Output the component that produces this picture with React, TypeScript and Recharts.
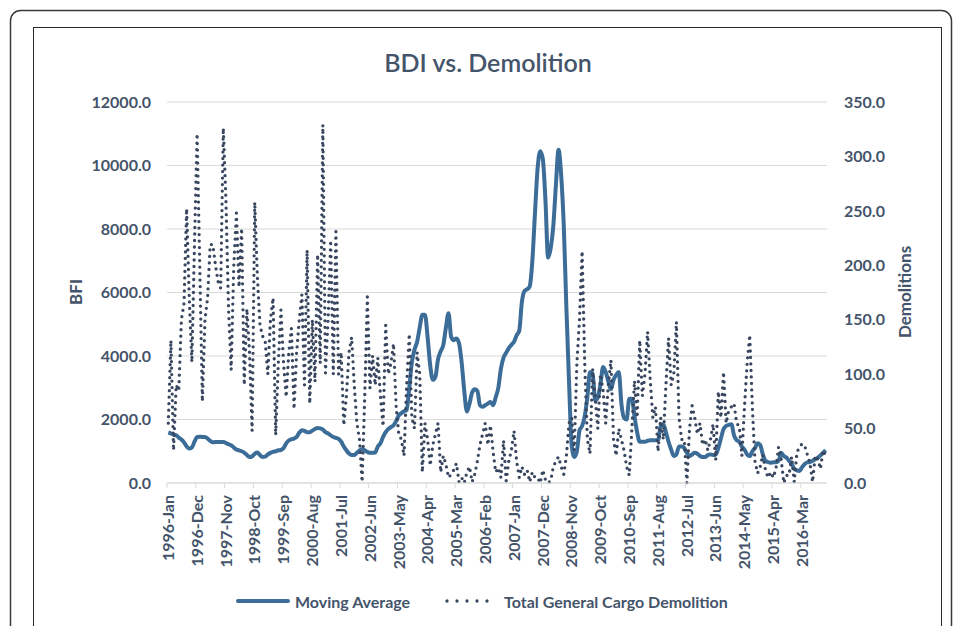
import { ComposedChart, Line, XAxis, YAxis, CartesianGrid } from "recharts";

const MONTH_NAMES = ["Jan", "Feb", "Mar", "Apr", "May", "Jun", "Jul", "Aug", "Sep", "Oct", "Nov", "Dec"];
const YEARS = [1996, 1997, 1998, 1999, 2000, 2001, 2002, 2003, 2004, 2005, 2006, 2007, 2008, 2009, 2010, 2011, 2012, 2013, 2014, 2015, 2016];

const months: string[] = [];
YEARS.forEach((y) => MONTH_NAMES.forEach((m) => months.push(`${y}-${m}`)));

// BDI moving average, left axis
const movingAverage = [
  1590, 1560, 1520, 1500, 1430, 1370, 1280, 1150, 1085, 1120,
  1300, 1450, 1460, 1450, 1450, 1400, 1330, 1280, 1290, 1290,
  1290, 1290, 1260, 1220, 1190, 1120, 1050, 1030, 1000, 960,
  880, 820, 840, 920, 960, 880, 820, 830, 900, 950,
  980, 1000, 1030, 1040, 1100, 1250, 1340, 1380, 1400, 1450,
  1580, 1660, 1640, 1600, 1600, 1650, 1700, 1730, 1720, 1680,
  1600, 1560, 1500, 1450, 1420, 1390, 1300, 1150, 1030, 930,
  880, 880, 950, 1030, 1060, 1030, 980, 950, 950, 960,
  1150, 1250, 1450, 1600, 1700, 1760, 1820, 1950, 2130, 2200,
  2260, 2300, 3000, 3800, 4200, 4450, 4900, 5300, 5300, 4600,
  3700, 3250, 3350, 3900, 4150, 4350, 4900, 5350, 4600, 4500,
  4550, 4400, 3800, 2900, 2250, 2500, 2850, 2950, 2900, 2450,
  2400, 2450, 2500, 2550, 2450, 2700, 3000, 3600, 3950, 4100,
  4250, 4350, 4450, 4650, 4800, 5700, 6050, 6100, 6200, 7000,
  8500, 9900, 10450, 10200, 8900, 7100, 7400, 8100, 9400, 10500,
  9700, 8100, 5500, 3200, 1200, 820, 1000, 1650, 1800, 2100,
  2700, 3500, 3450, 2600, 2700, 3100, 3650, 3500, 3200, 2950,
  3250, 3400, 3500, 2500, 2050, 2000, 2650, 2650, 2100, 1600,
  1300, 1300, 1300, 1330, 1350, 1350, 1350, 1350, 1800, 1850,
  1600, 1300, 1050, 850, 900, 1150, 1150, 1100, 950, 850,
  900, 950, 920, 850, 820, 820, 880, 900, 880, 900,
  1100, 1400, 1700, 1800, 1830, 1850, 1500, 1350, 1300, 1150,
  1050, 900, 850, 1000, 1100, 1250, 1200, 900, 700, 660,
  640, 650, 650, 700, 950, 850, 800, 700, 600, 450,
  400, 380, 500, 600, 650, 660, 700, 750, 800, 870,
  950, 1030,
];

// Total general cargo demolition, right axis
const demolitions = [
  55, 131, 30, 90, 85, 150, 165, 252, 170, 111,
  220, 321, 200, 75, 150, 170, 219, 219, 200, 185,
  179, 326, 260, 160, 104, 200, 248, 180, 234, 90,
  160, 120, 48, 258, 190, 145, 135, 130, 100, 150,
  170, 44, 110, 159, 110, 79, 120, 142, 68, 120,
  150, 173, 90, 214, 73, 150, 93, 210, 110, 329,
  101, 150, 223, 100, 231, 100, 120, 53, 80, 120,
  134, 90, 55, 40, 1, 80, 171, 87, 117, 90,
  115, 80, 52, 145, 100, 110, 128, 70, 45, 40,
  25, 90, 137, 60, 50, 120, 100, 10, 55, 40,
  16, 35, 45, 55, 10, 25, 17, 5, 8, 12,
  18, 1, 5, 0, 10, 15, 1, 8, 20, 35,
  45, 55, 35, 53, 29, 10, 14, 5, 39, 2,
  20, 30, 48, 20, 5, 15, 8, 12, 1, 10,
  5, 5, 0, 12, 3, 0, 2, 15, 20, 24,
  15, 8, 25, 55, 60, 30, 110, 150, 213, 110,
  40, 27, 105, 78, 50, 100, 85, 55, 90, 113,
  40, 25, 50, 40, 30, 15, 7, 50, 94, 60,
  131, 80, 100, 139, 95, 60, 70, 29, 60, 40,
  90, 133, 90, 100, 148, 60, 40, 40, 0, 50,
  71, 60, 45, 55, 35, 40, 30, 40, 54, 21,
  84, 60, 102, 55, 67, 70, 73, 55, 52, 25,
  70, 110, 136, 70, 20, 9, 15, 26, 12, 5,
  10, 5, 13, 33, 22, 0, 7, 7, 24, 1,
  28, 33, 36, 34, 26, 18, 1, 25, 22, 13,
  30, 25,
];

const leftTicks = [0, 2000, 4000, 6000, 8000, 10000, 12000];
const rightTicks = [0, 50, 100, 150, 200, 250, 300, 350];

const data = months.map((month, i) => ({
  month,
  ma: movingAverage[i],
  demo: demolitions[i],
}));

const TEXT = "#44546A";
const FONT = "Lato, 'Open Sans', sans-serif";
const MA_COLOR = "#3C6D98";
const DEMO_COLOR = "#38465F";

function MonthTick(props: any) {
  const { x, y, payload } = props;
  const half = payload && payload.offset ? payload.offset : 1.3;
  return (
    <g>
      <line x1={x - half} x2={x - half} y1={y - 12} y2={y - 7} stroke="#d9d9d9" />
      <text
        x={x}
        y={y}
        transform={`rotate(-90 ${x} ${y})`}
        textAnchor="end"
        dy="0.36em"
        fontSize={16}
        fontWeight={700}
        fill={TEXT}
        fontFamily={FONT}
      >
        {payload.value}
      </text>
    </g>
  );
}

export default function App() {
  return (
    <div style={{ position: "absolute", left: 0, top: 0, width: 955, height: 626, background: "#fff", overflow: "hidden" }}>
      <div style={{ position: "absolute", left: 0, top: 0 }}>
        <ComposedChart width={955} height={626} data={data} margin={{ top: 102, right: 0, bottom: 0, left: 0 }}>
          <CartesianGrid yAxisId="left" vertical={false} stroke="#d9d9d9" />
          <XAxis
            dataKey="month"
            scale="band"
            interval={10}
            height={143}
            tickLine={false}
            tickMargin={6}
            axisLine={{ stroke: "#d9d9d9" }}
            tick={<MonthTick />}
          />
          <YAxis
            yAxisId="left"
            width={167}
            domain={[0, 12000]}
            ticks={leftTicks}
            tickFormatter={(v: number) => v.toFixed(1)}
            axisLine={false}
            tickLine={false}
            tickMargin={10}
            tick={{ fill: TEXT, fontSize: 16, fontWeight: 700, fontFamily: FONT }}
          />
          <YAxis
            yAxisId="right"
            orientation="right"
            width={128}
            domain={[0, 350]}
            ticks={rightTicks}
            tickFormatter={(v: number) => v.toFixed(1)}
            axisLine={false}
            tickLine={false}
            tickMargin={11}
            tick={{ fill: TEXT, fontSize: 16, fontWeight: 700, fontFamily: FONT }}
          />
          <Line
            yAxisId="left"
            dataKey="ma"
            type="monotone"
            stroke={MA_COLOR}
            strokeWidth={4}
            dot={false}
            isAnimationActive={false}
          />
          <Line
            yAxisId="right"
            dataKey="demo"
            type="linear"
            stroke={DEMO_COLOR}
            strokeWidth={3.3}
            strokeDasharray="0 6.5"
            strokeLinecap="round"
            dot={false}
            isAnimationActive={false}
          />
        </ComposedChart>
      </div>
      <svg width={955} height={626} style={{ position: "absolute", left: 0, top: 0, pointerEvents: "none" }}>
        <rect x={10.5} y={10.5} width={941} height={700} rx={10} fill="none" stroke="#3a3a3a" strokeWidth={1.5} />
        <rect x={33.5} y={27.5} width={908} height={700} fill="none" stroke="#2b2b2b" strokeWidth={1} />
        <text x={488} y={62} textAnchor="middle" dominantBaseline="central" fontSize={25} fontWeight={600} fill={TEXT} fontFamily={FONT}>
          BDI vs. Demolition
        </text>
        <text x={75} y={292} transform="rotate(-90 75 292)" textAnchor="middle" dominantBaseline="central" fontSize={17} fontWeight={700} fill={TEXT} fontFamily={FONT}>
          BFI
        </text>
        <text x={904} y={292} transform="rotate(-90 904 292)" textAnchor="middle" dominantBaseline="central" fontSize={17} fontWeight={700} fill={TEXT} fontFamily={FONT}>
          Demolitions
        </text>
        <line x1={238} x2={288} y1={601} y2={601} stroke={MA_COLOR} strokeWidth={4} strokeLinecap="round" />
        <text x={295} y={601} dominantBaseline="central" fontSize={16} fontWeight={700} fill={TEXT} fontFamily={FONT}>
          Moving Average
        </text>
        <line x1={447} x2={497} y1={601} y2={601} stroke={DEMO_COLOR} strokeWidth={3.3} strokeDasharray="0 10" strokeLinecap="round" />
        <text x={504} y={601} dominantBaseline="central" fontSize={16} fontWeight={700} fill={TEXT} fontFamily={FONT}>
          Total General Cargo Demolition
        </text>
      </svg>
    </div>
  );
}
